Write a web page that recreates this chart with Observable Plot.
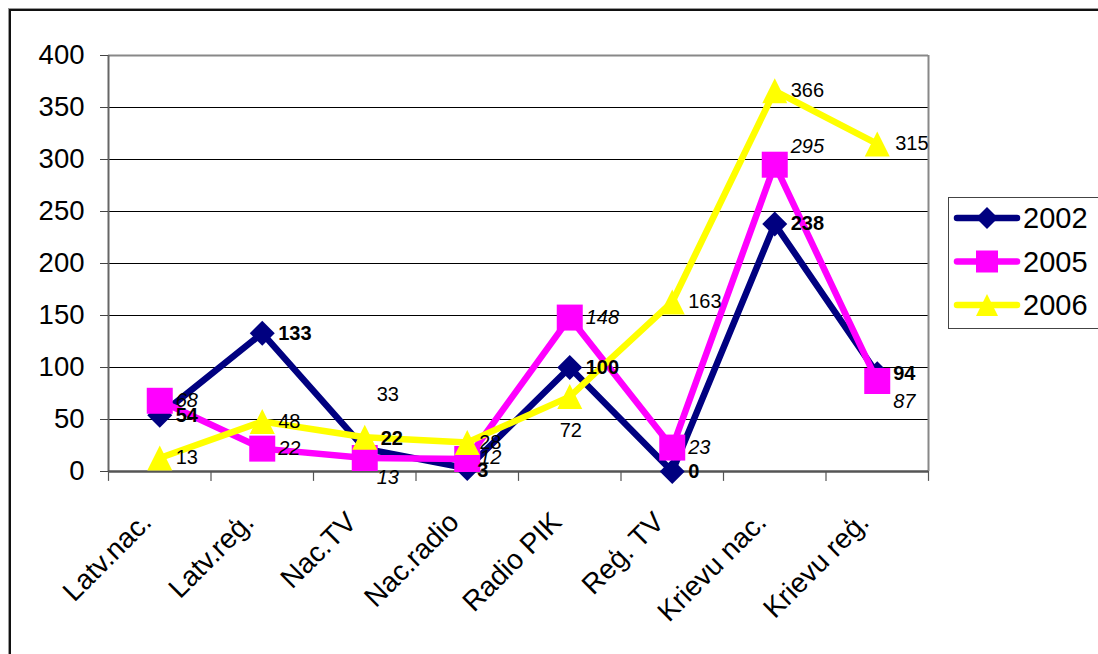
<!DOCTYPE html>
<html>
<head>
<meta charset="utf-8">
<script src="https://cdn.jsdelivr.net/npm/d3@7"></script>
<script src="https://cdn.jsdelivr.net/npm/@observablehq/plot@0.6"></script>
<style>
  html, body { margin: 0; padding: 0; background: #fff; }
  #wrap { position: relative; width: 1098px; height: 654px; overflow: hidden; font-family: "Liberation Sans", Arial, sans-serif; }
  #outer { position: absolute; left: 9px; top: 9px; width: 1200px; height: 700px; border-left: 2px solid #111; border-top: 2px solid #111; box-shadow: -1px -1px 0 #999; pointer-events: none; }
  #legend { position: absolute; left: 948px; top: 197px; width: 200px; height: 130px; border: 1.5px solid #444; background: #fff; }
</style>
</head>
<body>
<div id="wrap">
  <div id="chart"></div>
  <div id="outer"></div>
  <div id="legend"></div>
</div>
<script>
// ---- data ----
const categories = ["Latv.nac.", "Latv.reģ.", "Nac.TV", "Nac.radio", "Radio PIK", "Reģ. TV", "Krievu nac.", "Krievu reģ."];
const seriesNames = ["2002", "2005", "2006"];
const values2002 = [54, 133, 22, 3, 100, 0, 238, 94];
const values2005 = [68, 22, 13, 12, 148, 23, 295, 87];
const values2006 = [13, 48, 33, 28, 72, 163, 366, 315];
const yTicks = [0, 50, 100, 150, 200, 250, 300, 350, 400];

// ---- styling config ----
const colors = {"2002": "#000080", "2005": "#FF00FF", "2006": "#FFFF00"};
const weights = {"2002": "bold", "2005": "normal", "2006": "normal"};
const styles = {"2002": "normal", "2005": "italic", "2006": "normal"};
// label nudges [dx, dy] in pixels, keyed by series|category
const labelNudge = {
  "2002|Nac.TV": [16, -10],
  "2002|Nac.radio": [10, 2],
  "2005|Nac.TV": [12, 20],
  "2005|Nac.radio": [12, -1],
  "2005|Krievu nac.": [16, -18],
  "2005|Krievu reģ.": [16, 21],
  "2006|Nac.TV": [12, -43],
  "2006|Nac.radio": [12, 0],
  "2006|Radio PIK": [-10, 34],
  "2006|Krievu reģ.": [18, 0]
};

const F = "'Liberation Sans', Arial, sans-serif";
const seriesValues = {"2002": values2002, "2005": values2005, "2006": values2006};
const rows = seriesNames.flatMap(s => categories.map((c, i) => ({series: s, cat: c, i, value: seriesValues[s][i]})));

// symbols (half-width = r)
const diamond = {draw(ctx, size) { const r = Math.sqrt(size / Math.PI); ctx.moveTo(0, -r); ctx.lineTo(r, 0); ctx.lineTo(0, r); ctx.lineTo(-r, 0); ctx.closePath(); }};
const square = {draw(ctx, size) { const r = Math.sqrt(size / Math.PI); ctx.rect(-r, -r, 2 * r, 2 * r); }};
const triangle = {draw(ctx, size) { const r = Math.sqrt(size / Math.PI); ctx.moveTo(0, -r); ctx.lineTo(r, r); ctx.lineTo(-r, r); ctx.closePath(); }};
const symbols = {"2002": diamond, "2005": square, "2006": triangle};
const radii = {"2002": 12.5, "2005": 13, "2006": 12.5};

const marks = [];
// grid and frame
marks.push(Plot.ruleY(yTicks.filter(t => t > 0 && t < 400), {y: d => d, stroke: "#000", strokeWidth: 1}));
marks.push(Plot.ruleY([400], {stroke: "#888", strokeWidth: 2}));
marks.push(Plot.ruleX([8], {stroke: "#888", strokeWidth: 2}));
marks.push(Plot.ruleX([0], {stroke: "#666", strokeWidth: 2}));
// x ticks between categories
marks.push(Plot.ruleX(d3.range(categories.length + 1), {x: d => d, y1: 0, y2: -9.5, stroke: "#555", strokeWidth: 1.2}));
marks.push(Plot.ruleY([0], {stroke: "#555", strokeWidth: 2.5}));
// y axis
marks.push(Plot.axisY({ticks: yTicks, tickSize: 8, tickPadding: 16, fontSize: 27.5, fontFamily: F, stroke: "#444", fill: "#000", label: null}));
// x labels
marks.push(Plot.text(categories, {x: (d, i) => i + 0.5, y: 0, text: d => d, rotate: -45, textAnchor: "end", dx: -13, dy: 46, fontSize: 28, fontFamily: F, fill: "#000"}));

// series
for (const s of seriesNames) {
  const data = rows.filter(r => r.series === s);
  marks.push(Plot.line(data, {x: d => d.i + 0.5, y: "value", stroke: colors[s], strokeWidth: 6.5, strokeLinejoin: "round", strokeLinecap: "round"}));
  marks.push(Plot.dot(data, {x: d => d.i + 0.5, y: "value", symbol: () => symbols[s], r: radii[s], fill: colors[s], stroke: "none"}));
}
// labels
for (const s of seriesNames) {
  const data = rows.filter(r => r.series === s);
  const plain = data.filter(d => !labelNudge[s + "|" + d.cat]);
  marks.push(Plot.text(plain, {x: d => d.i + 0.5, y: "value", text: d => String(d.value), textAnchor: "start", dx: 16, fontSize: 20, fontFamily: F, fontWeight: weights[s], fontStyle: styles[s], fill: "#000"}));
  for (const d of data.filter(d => labelNudge[s + "|" + d.cat])) {
    const [dx, dy] = labelNudge[s + "|" + d.cat];
    marks.push(Plot.text([d], {x: d => d.i + 0.5, y: "value", text: d => String(d.value), textAnchor: "start", dx, dy, fontSize: 20, fontFamily: F, fontWeight: weights[s], fontStyle: styles[s], fill: "#000"}));
  }
}

const chart = Plot.plot({
  width: 1098,
  height: 654,
  marginLeft: 108,
  marginRight: 170,
  marginTop: 55,
  marginBottom: 183,
  style: {background: "#fff", fontFamily: F, overflow: "visible"},
  x: {type: "linear", domain: [0, categories.length], axis: null},
  y: {type: "linear", domain: [0, 400], axis: null},
  marks
});
document.getElementById("chart").appendChild(chart);

// legend
const leg = d3.select("#legend").append("svg").attr("width", 200).attr("height", 130).style("display", "block");
seriesNames.forEach((s, k) => {
  const cy = 20 + k * 43.5;
  const g = leg.append("g").attr("transform", `translate(0,${cy})`);
  g.append("line").attr("x1", 8).attr("x2", 68).attr("y1", 0).attr("y2", 0).attr("stroke", colors[s]).attr("stroke-width", 6.5).attr("stroke-linecap", "round");
  g.append("path").attr("transform", "translate(38,0)").attr("d", d3.symbol(symbols[s], Math.PI * 11 * 11)()).attr("fill", colors[s]);
  g.append("text").attr("x", 74).attr("y", 0).attr("dy", "0.36em").attr("font-size", 29).attr("font-family", F).attr("fill", "#000").text(s);
});
</script>
</body>
</html>
